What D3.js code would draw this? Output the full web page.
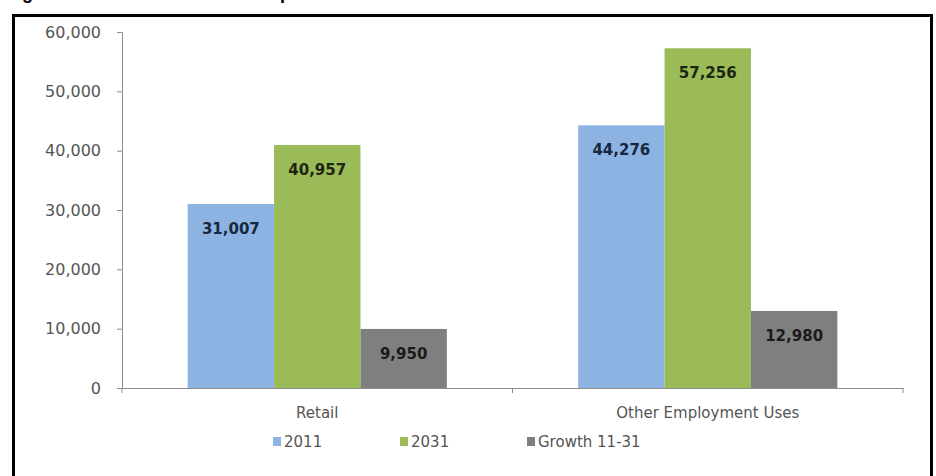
<!DOCTYPE html>
<html>
<head>
<meta charset="utf-8">
<script src="https://cdn.jsdelivr.net/npm/d3@7"></script>
<style>
  body { margin: 0; background: #fff; }
  svg { display: block; }
</style>
</head>
<body>
<svg id="chart"></svg>
<script>
const categories = ['Retail', 'Other Employment Uses']
const seriesNames = ['2011', '2031', 'Growth 11-31']
const values2011 = [31007, 44276]
const values2031 = [40957, 57256]
const valuesGrowth = [9950, 12980]
const yTicks = [0, 10000, 20000, 30000, 40000, 50000, 60000]

const colors = ['#8db3e2', '#9bbb59', '#7f7f7f']
const labelColors = ['#17273f', '#1e2510', '#1a1a1a']

const width = 936
const height = 476
const font = 'DejaVu Sans, sans-serif'

const svg = d3.select('#chart')
  .attr('width', width)
  .attr('height', height)

// cropped title, only descenders peek in
svg.append('text')
  .attr('x', 6)
  .attr('y', -1)
  .attr('font-family', 'Liberation Sans, Arial, sans-serif')
  .attr('font-weight', 'bold')
  .attr('font-size', 18)
  .attr('fill', '#000')
  .text('Figure 5 Retail and Other Floorspace Needs')

// outer frame
svg.append('rect')
  .attr('x', 13.5)
  .attr('y', 15.5)
  .attr('width', 918)
  .attr('height', 470)
  .attr('fill', 'none')
  .attr('stroke', '#000')
  .attr('stroke-width', 3)

const plot = { left: 122, right: 903, top: 32, bottom: 388 }

const x0 = d3.scaleBand()
  .domain(categories)
  .range([plot.left, plot.right])
  .paddingInner(0)
  .paddingOuter(0)

const x1 = d3.scaleBand()
  .domain(seriesNames)
  .range([0, x0.bandwidth()])
  .paddingInner(0)
  .paddingOuter(0.76)

const y = d3.scaleLinear()
  .domain([0, 60000])
  .range([plot.bottom, plot.top])

const series = [values2011, values2031, valuesGrowth]
const bars = []
categories.forEach((cat, i) => {
  seriesNames.forEach((s, j) => {
    bars.push({ cat, s, j, value: series[j][i] })
  })
})

// y axis
const yAxis = svg.append('g')
  .attr('transform', `translate(${plot.left},0)`)
  .call(d3.axisLeft(y).tickValues(yTicks).tickSize(5).tickPadding(16)
    .tickFormat(d3.format(',')))
yAxis.select('.domain').attr('stroke', '#8c8c8c')
yAxis.selectAll('.tick line').attr('stroke', '#8c8c8c')
yAxis.selectAll('text')
  .attr('font-family', font)
  .attr('font-size', 16)
  .attr('fill', '#555')

// bars
svg.append('g')
  .selectAll('rect')
  .data(bars)
  .join('rect')
  .attr('x', d => x0(d.cat) + x1(d.s))
  .attr('y', d => y(d.value))
  .attr('width', x1.bandwidth())
  .attr('height', d => y(0) - y(d.value))
  .attr('fill', d => colors[d.j])

// x axis
const xAxis = svg.append('g')
  .attr('transform', `translate(0,${plot.bottom})`)
  .call(d3.axisBottom(x0).tickSize(0).tickPadding(19))
xAxis.select('.domain').attr('stroke', '#8c8c8c')
xAxis.selectAll('text')
  .attr('font-family', font)
  .attr('font-size', 15)
  .attr('fill', '#555')
// tick marks at category boundaries
svg.append('g')
  .selectAll('line')
  .data([plot.left, ...categories.map(c => x0(c) + x0.bandwidth())])
  .join('line')
  .attr('x1', d => d)
  .attr('x2', d => d)
  .attr('y1', plot.bottom)
  .attr('y2', plot.bottom + 5)
  .attr('stroke', '#8c8c8c')

// data labels
svg.append('g')
  .selectAll('text')
  .data(bars)
  .join('text')
  .attr('x', d => x0(d.cat) + x1(d.s) + x1.bandwidth() / 2)
  .attr('y', d => y(d.value) + 30)
  .attr('text-anchor', 'middle')
  .attr('font-family', font)
  .attr('font-weight', 'bold')
  .attr('font-size', 15)
  .attr('fill', d => labelColors[d.j])
  .text(d => d3.format(',')(d.value))

// legend
const legendX = [273, 400, 527]
const legend = svg.append('g')
  .selectAll('g')
  .data(seriesNames)
  .join('g')
  .attr('transform', (d, i) => `translate(${legendX[i]},442)`)
legend.append('rect')
  .attr('x', 0)
  .attr('y', -5)
  .attr('width', 8)
  .attr('height', 9)
  .attr('fill', (d, i) => colors[i])
legend.append('text')
  .attr('x', 11)
  .attr('y', 0)
  .attr('dy', '0.36em')
  .attr('font-family', font)
  .attr('font-size', 15)
  .attr('fill', '#555')
  .text(d => d)
</script>
</body>
</html>
